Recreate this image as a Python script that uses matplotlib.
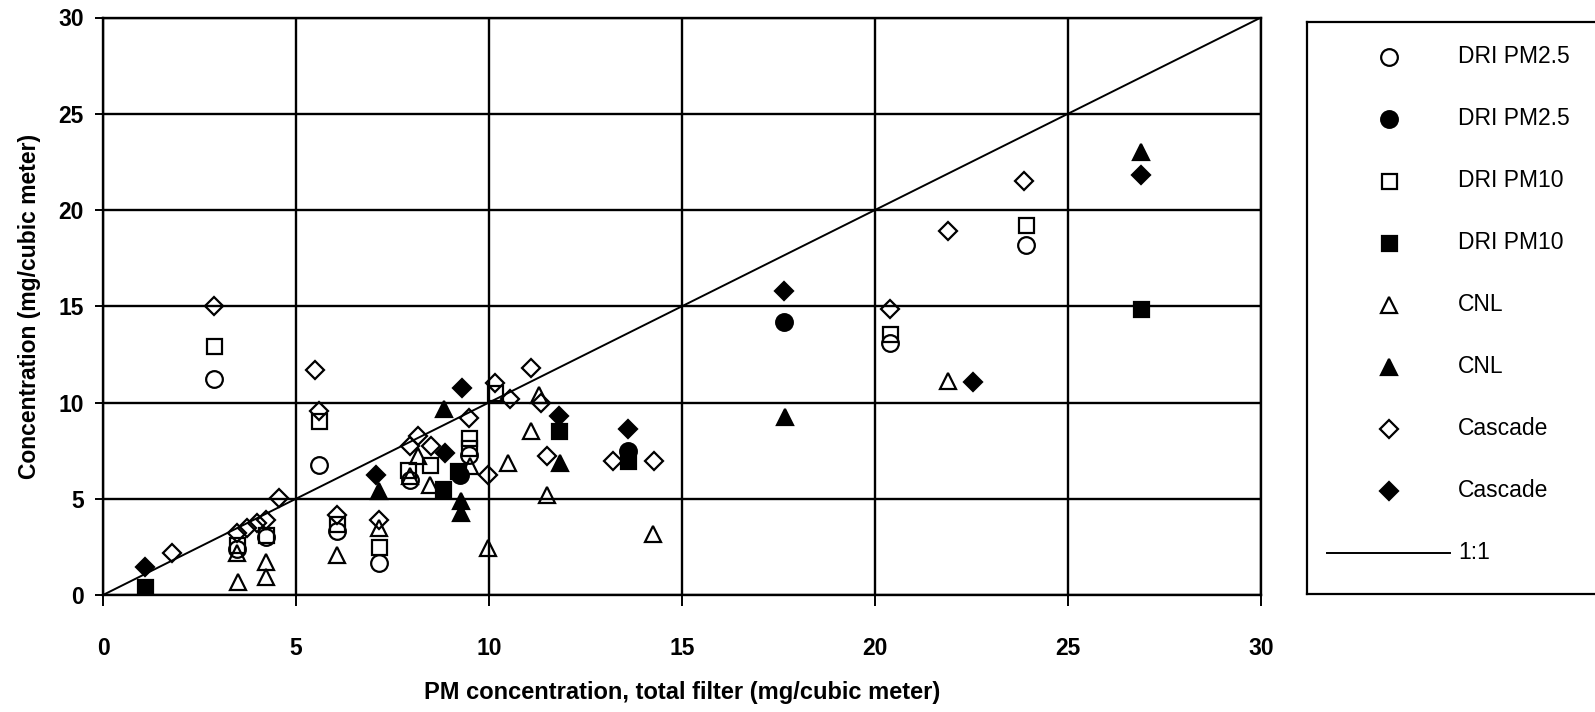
import matplotlib
matplotlib.use("Agg")
import matplotlib.pyplot as plt

plt.rcParams['font.family'] = ['Liberation Sans', 'DejaVu Sans']

# Data (x = total filter, y = sampler concentration)
dri25_open_x = [2.88, 5.6, 3.46, 4.22, 6.05, 7.15, 7.95, 9.49, 20.4, 23.9]
dri25_open_y = [11.2, 6.75, 2.4, 3.0, 3.3, 1.65, 6.0, 7.25, 13.1, 18.2]
dri25_fill_x = [17.65, 13.6, 9.25]
dri25_fill_y = [14.2, 7.5, 6.25]

dri10_open_x = [2.88, 5.6, 3.46, 4.22, 6.05, 7.15, 7.9, 8.47, 9.49, 9.49, 10.16, 20.4, 23.9]
dri10_open_y = [12.93, 9.03, 2.6, 3.13, 3.7, 2.5, 6.5, 6.77, 8.16, 7.64, 10.5, 13.54, 19.2]
dri10_fill_x = [1.09, 8.82, 9.2, 11.82, 13.6, 26.9]
dri10_fill_y = [0.43, 5.5, 6.42, 8.5, 6.95, 14.84]

cnl_open_x = [3.5, 3.46, 4.22, 4.22, 6.05, 7.15, 7.95, 8.17, 8.47, 9.5, 9.98, 10.5, 11.1,
              11.3, 11.5, 14.26, 21.9]
cnl_open_y = [0.7, 2.2, 1.73, 0.95, 2.08, 3.47, 6.2, 7.2, 5.73, 6.7, 2.43, 6.86, 8.5,
              10.4, 5.2, 3.18, 11.1]
cnl_fill_x = [7.15, 8.84, 9.28, 9.28, 11.84, 17.67, 26.9]
cnl_fill_y = [5.38, 9.64, 4.9, 4.25, 6.86, 9.25, 23.0]

casc_open_x = [1.8, 2.88, 3.46, 3.72, 3.98, 4.22, 4.56, 5.49, 5.6, 6.05, 7.15, 7.95, 8.17,
               8.51, 9.49, 9.98, 10.16, 10.54, 11.1, 11.34, 11.5, 13.2, 14.27, 20.4, 21.9, 23.86]
casc_open_y = [2.17, 15.0, 3.2, 3.47, 3.73, 3.9, 5.03, 11.68, 9.55, 4.17, 3.9, 7.73, 8.25,
               7.73, 9.2, 6.25, 11.0, 10.2, 11.8, 9.95, 7.2, 6.94, 6.94, 14.84, 18.9, 21.5]
casc_fill_x = [1.09, 7.07, 8.86, 9.29, 11.82, 13.6, 17.65, 22.53, 26.9]
casc_fill_y = [1.47, 6.25, 7.4, 10.77, 9.32, 8.63, 15.8, 11.06, 21.8]

one_to_one = [0, 30]

labels = ["DRI PM2.5", "DRI PM2.5", "DRI PM10", "DRI PM10", "CNL", "CNL", "Cascade", "Cascade"]
series = [
    (dri25_open_x, dri25_open_y, 'o', False, 12),
    (dri25_fill_x, dri25_fill_y, 'o', True, 12),
    (dri10_open_x, dri10_open_y, 's', False, 10.8),
    (dri10_fill_x, dri10_fill_y, 's', True, 10.8),
    (cnl_open_x, cnl_open_y, '^', False, 12),
    (cnl_fill_x, cnl_fill_y, '^', True, 12),
    (casc_open_x, casc_open_y, 'D', False, 8.8),
    (casc_fill_x, casc_fill_y, 'D', True, 8.8),
]

W, H = 1595, 712
fig = plt.figure(figsize=(W / 100, H / 100), dpi=100)
ax = fig.add_axes([103 / W, 1 - 595 / H, (1261 - 103) / W, (595 - 17.5) / H])

ax.plot(one_to_one, one_to_one, color='black', lw=1.4, zorder=2)
for (xs, ys, m, filled, ms) in series:
    ax.plot(xs, ys, linestyle='none', marker=m, ms=ms, mew=1.6,
            mec='black', mfc='black' if filled else 'none', zorder=3)

ax.set_xlim(0, 30)
ax.set_ylim(0, 30)
ax.set_xticks(range(0, 31, 5))
ax.set_yticks(range(0, 31, 5))
ax.grid(True, color='black', lw=1.7)
ax.set_axisbelow(True)
for s in ax.spines.values():
    s.set_linewidth(1.7)
ax.tick_params(axis='x', length=8, width=1.4, pad=22, labelsize=16.5)
ax.tick_params(axis='y', length=6, width=1.4, pad=8, labelsize=16.5)
for lab in ax.get_xticklabels() + ax.get_yticklabels():
    lab.set_fontweight('bold')

ax.set_xlabel("PM concentration, total filter (mg/cubic meter)", fontsize=17,
              fontweight='bold', labelpad=15)
ax.set_ylabel("Concentration (mg/cubic meter)", fontsize=16.5, fontweight='bold', labelpad=12)

# legend box, drawn by hand in pixel units
L, T, B = 1307, 21.7, 594
lg = fig.add_axes([L / W, 1 - B / H, (1620 - L) / W, (B - T) / H])
lg.set_xlim(0, 1620 - L)
lg.set_ylim(B - T, 0)
lg.set_xticks([])
lg.set_yticks([])
for s in lg.spines.values():
    s.set_linewidth(1.6)
for i, ((xs, ys, m, filled, ms), lab) in enumerate(zip(series, labels)):
    yy = 56.7 - T + 62 * i
    lg.plot([1389 - L], [yy], marker=m, ms=ms, mew=1.6, mec='black',
            mfc='black' if filled else 'none', linestyle='none')
    lg.text(1458 - L, yy, lab, fontsize=16.5, va='center', ha='left')
yy = 56.7 - T + 62 * 8
lg.plot([1327 - L, 1450 - L], [yy, yy], color='black', lw=1.4)
lg.text(1458 - L, yy, "1:1", fontsize=16.5, va='center', ha='left')

fig.savefig("out.png", dpi=100)
